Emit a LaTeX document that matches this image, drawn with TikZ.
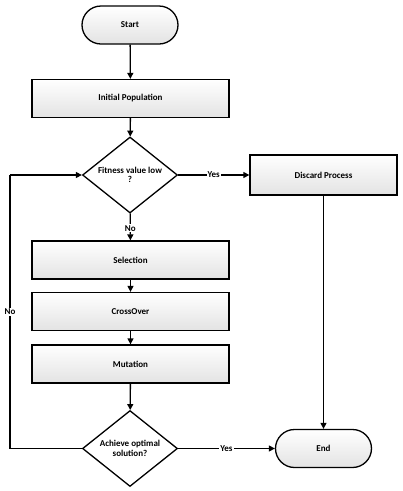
\documentclass[tikz,border=0pt]{standalone}
\usepackage{fontspec}
\setmainfont{Carlito}
\usetikzlibrary{shapes.geometric,arrows.meta,shadows}
\begin{document}
\begin{tikzpicture}[x=1pt,y=-1pt,
  every node/.style={font=\bfseries\fontsize{9}{9.5}\selectfont},
  box/.style={draw,line width=1.3pt,top color=white,bottom color=gray!22,minimum width=197pt,minimum height=38pt,inner sep=0pt},
  term/.style={draw,line width=1.3pt,rounded corners=19pt,top color=white,bottom color=gray!22,minimum width=96pt,minimum height=38pt,inner sep=0pt},
  dec/.style={draw,line width=1.3pt,diamond,fill=white,minimum width=95pt,minimum height=76pt,inner sep=0pt,aspect=1.25,align=center},
  conn/.style={line width=1.3pt,-{Triangle[length=6pt,width=6pt]}},
  line/.style={line width=1.3pt},
  lab/.style={fill=white,inner sep=1pt}]
\useasboundingbox (0,0) rectangle (403,491);
\node[term] (start) at (130,25) {Start};
\node[box] (init) at (130.5,98.5) {Initial Population};
\node[dec] (fit) at (130,175) {Fitness value low\\?};
\node[box,minimum width=147pt,minimum height=40pt] (disc) at (323.5,175) {Discard Process};
\node[box] (sel) at (130.5,260) {Selection};
\node[box] (cross) at (130.5,311.5) {CrossOver};
\node[box] (mut) at (130.5,364) {Mutation};
\node[dec] (ach) at (130,448.5) {Achieve optimal\\solution?};
\node[term] (end) at (323.5,448.5) {End};
\coordinate (lb) at (10,448.5);
\coordinate (lt) at (10,175);
\draw[conn] (start) -- (init);
\draw[conn] (init) -- (fit);
\draw[conn] (fit) -- node[lab] {Yes} (disc);
\draw[conn] (fit) -- node[lab,pos=0.55] {No} (sel);
\draw[conn] (sel) -- (cross);
\draw[conn] (cross) -- (mut);
\draw[conn] (mut) -- (ach);
\draw[conn] (ach) -- node[lab,pos=0.5] {Yes} (end);
\draw[conn] (disc) -- (end);
\draw[line] (ach.west) -- (lb) -- node[lab,pos=0.5] {No} (lt);
\draw[conn] (lt) -- (fit.west);
\end{tikzpicture}
\end{document}
